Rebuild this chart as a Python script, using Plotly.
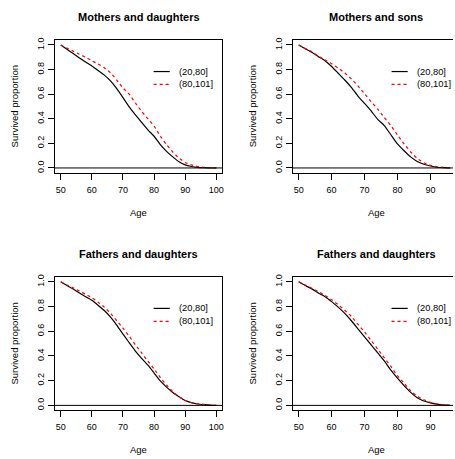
import plotly.graph_objects as go

# ---------------- data ----------------
ages = [50, 52, 54, 56, 58, 60, 62, 64, 66, 68, 70, 72, 74, 76, 78, 80,
        82, 84, 86, 88, 90, 92, 94, 96, 98, 100]
ages_short = [50, 52, 54, 56, 58, 60, 62, 64, 66, 68, 70, 72, 74, 76, 78, 80,
              82, 84, 86, 88, 90, 92, 94, 96]

md_20_80 = [1.0, 0.965, 0.93, 0.895, 0.862, 0.83, 0.792, 0.755, 0.708, 0.645, 0.572,
            0.497, 0.432, 0.37, 0.31, 0.258, 0.19, 0.135, 0.09, 0.05, 0.025, 0.012,
            0.005, 0.002, 0.0, 0.0]
md_80_101 = [1.0, 0.975, 0.95, 0.925, 0.9, 0.872, 0.845, 0.815, 0.775, 0.715, 0.65,
             0.6, 0.528, 0.46, 0.4, 0.34, 0.26, 0.19, 0.13, 0.08, 0.045, 0.025,
             0.012, 0.005, 0.002, 0.0]

ms_20_80 = [1.0, 0.97, 0.94, 0.905, 0.872, 0.825, 0.77, 0.715, 0.655, 0.585, 0.525,
            0.465, 0.395, 0.345, 0.27, 0.195, 0.14, 0.09, 0.052, 0.03, 0.016, 0.006,
            0.002, 0.0]
ms_80_101 = [1.0, 0.972, 0.945, 0.91, 0.878, 0.847, 0.812, 0.772, 0.725, 0.667, 0.603,
             0.54, 0.478, 0.41, 0.345, 0.268, 0.195, 0.13, 0.078, 0.042, 0.022, 0.01,
             0.004, 0.001]

fd_20_80 = [1.0, 0.97, 0.942, 0.91, 0.88, 0.85, 0.81, 0.768, 0.715, 0.65, 0.576,
            0.508, 0.44, 0.38, 0.325, 0.262, 0.198, 0.148, 0.105, 0.07, 0.04, 0.022,
            0.011, 0.006, 0.002, 0.0]
fd_80_101 = [1.0, 0.975, 0.952, 0.925, 0.9, 0.871, 0.835, 0.795, 0.745, 0.685, 0.625,
             0.56, 0.49, 0.425, 0.358, 0.295, 0.225, 0.165, 0.11, 0.07, 0.04, 0.022,
             0.013, 0.008, 0.003, 0.0]

fd2_20_80 = [1.0, 0.97, 0.943, 0.91, 0.88, 0.84, 0.795, 0.745, 0.685, 0.62, 0.555,
             0.49, 0.425, 0.36, 0.285, 0.22, 0.16, 0.105, 0.062, 0.035, 0.02, 0.01,
             0.004, 0.001]
fd2_80_101 = [1.0, 0.975, 0.948, 0.92, 0.89, 0.855, 0.815, 0.77, 0.72, 0.655, 0.595,
              0.525, 0.455, 0.385, 0.315, 0.24, 0.18, 0.118, 0.075, 0.045, 0.024, 0.012,
              0.005, 0.002]

titles = ["Mothers and daughters", "Mothers and sons",
          "Fathers and daughters", "Fathers and daughters"]
series_names = ["(20,80]", "(80,101]"]
x_ticks_left = [50, 60, 70, 80, 90, 100]
x_ticks_right = [50, 60, 70, 80, 90]
y_ticks = [0.0, 0.2, 0.4, 0.6, 0.8, 1.0]
y_tick_text = ["0.0", "0.2", "0.4", "0.6", "0.8", "1.0"]

# ---------------- layout geometry ----------------
W, H = 455, 459
FONT = "Liberation Sans, Arial, Helvetica, sans-serif"


def fx(p):
    return p / W


def fy(p):
    return 1 - p / H


panels = [
    dict(ages=ages, a=md_20_80, b=md_80_101, xd=(55, 223.3), yd=(37.3, 171),
         xr=[48.08, 101.92], xt=x_ticks_left, right=False),
    dict(ages=ages_short, a=ms_20_80, b=ms_80_101, xd=(294, 455), yd=(37.3, 171),
         xr=[48.19, 96.86], xt=x_ticks_right, right=True),
    dict(ages=ages, a=fd_20_80, b=fd_80_101, xd=(55, 223.3), yd=(275.7, 410),
         xr=[48.08, 101.92], xt=x_ticks_left, right=False),
    dict(ages=ages_short, a=fd2_20_80, b=fd2_80_101, xd=(294, 455), yd=(275.7, 410),
         xr=[48.19, 96.86], xt=x_ticks_right, right=True),
]

fig = go.Figure()
shapes = []
annotations = []
layout_axes = {}

for i, p in enumerate(panels):
    n = "" if i == 0 else str(i + 1)
    xa, ya = "x" + n, "y" + n
    fig.add_trace(go.Scatter(x=p["ages"], y=p["a"], mode="lines", name=series_names[0],
                             line=dict(color="black", width=1.2, shape="spline",
                                       smoothing=0.5),
                             xaxis=xa, yaxis=ya, showlegend=False, hoverinfo="skip"))
    fig.add_trace(go.Scatter(x=p["ages"], y=p["b"], mode="lines", name=series_names[1],
                             line=dict(color="#ff0000", width=1.2, dash="3px,3px",
                                       shape="spline", smoothing=0.5),
                             xaxis=xa, yaxis=ya, showlegend=False, hoverinfo="skip"))

    x0, x1 = p["xd"]
    y0, y1 = p["yd"]
    common = dict(showline=True, linecolor="black", linewidth=1, ticks="outside",
                  ticklen=6, tickwidth=1, tickcolor="black", showgrid=False,
                  zeroline=False, tickfont=dict(family=FONT, size=9, color="black"))
    layout_axes["xaxis" + n] = dict(domain=[fx(x0), fx(x1)], range=p["xr"],
                                    tickvals=p["xt"], mirror=True, anchor=ya,
                                    ticklabelstandoff=2, fixedrange=True, **common)
    layout_axes["yaxis" + n] = dict(domain=[fy(y1), fy(y0)], range=[-0.04, 1.04],
                                    tickvals=y_ticks, ticktext=y_tick_text,
                                    tickangle=-90, mirror=not p["right"], anchor=xa,
                                    fixedrange=True, **common)

    # horizontal reference line at 0
    shapes.append(dict(type="line", xref=xa + " domain", yref=ya, x0=0, x1=1,
                       y0=0, y1=0, line=dict(color="black", width=1)))

    # panel title and axis titles
    full_w = 168.3
    cx = x0 + full_w / 2
    annotations.append(dict(text="<b>" + titles[i] + "</b>", x=fx(cx), y=fy(y0 - 23),
                            xref="paper", yref="paper", showarrow=False,
                            xanchor="center", yanchor="middle",
                            font=dict(family=FONT, size=11, color="black")))
    annotations.append(dict(text="Age", x=fx(cx), y=fy(y1 + 39.7),
                            xref="paper", yref="paper", showarrow=False,
                            xanchor="center", yanchor="middle",
                            font=dict(family=FONT, size=9.5, color="black")))
    annotations.append(dict(text="Survived proportion", x=fx(x0 - 40), y=fy((y0 + y1) / 2),
                            xref="paper", yref="paper", showarrow=False, textangle=-90,
                            xanchor="center", yanchor="middle",
                            font=dict(family=FONT, size=9.5, color="black")))

    # legend
    lx0, lx1, tx = x0 + 99.3, x0 + 115.5, x0 + 123
    for k, (col, dash) in enumerate([("black", "solid"), ("#ff0000", "3px,3px")]):
        ly = y0 + 31.7 + k * 13
        shapes.append(dict(type="line", xref="paper", yref="paper",
                           x0=fx(lx0), x1=fx(lx1), y0=fy(ly), y1=fy(ly),
                           line=dict(color=col, width=1.2, dash=dash)))
        annotations.append(dict(text=series_names[k], x=fx(tx), y=fy(ly),
                                xref="paper", yref="paper", showarrow=False,
                                xanchor="left", yanchor="middle",
                                font=dict(family=FONT, size=9.3, color="black")))

fig.update_layout(width=W, height=H, margin=dict(l=0, r=0, t=0, b=0),
                  paper_bgcolor="white", plot_bgcolor="white", hovermode=False,
                  shapes=shapes, annotations=annotations, **layout_axes)

fig.write_html("out.html",
               config={"displayModeBar": False, "staticPlot": True},
               post_script="document.body.style.margin='0';"
                           "document.body.style.padding='0';"
                           "document.body.style.overflow='hidden';")
